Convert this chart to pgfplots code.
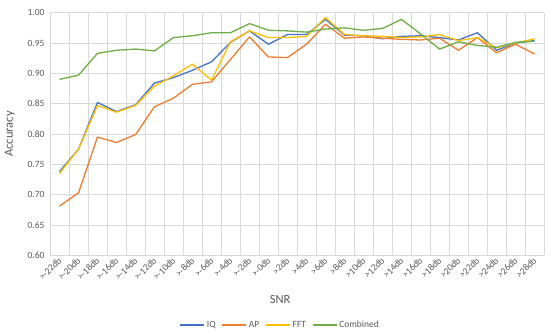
\documentclass[border=0pt]{standalone}
\usepackage{pgfplots}
\pgfplotsset{compat=1.18}
\usepackage{fontspec}
\setmainfont{Carlito}
\definecolor{cIQ}{HTML}{4472C4}
\definecolor{cAP}{HTML}{ED7D31}
\definecolor{cFFT}{HTML}{FFC000}
\definecolor{cComb}{HTML}{70AD47}
\definecolor{gridc}{HTML}{D9D9D9}
\definecolor{txt}{HTML}{595959}
\begin{document}
\begin{tikzpicture}
\begin{axis}[
  at={(0,0)}, anchor=south west,
  scale only axis, width=494pt, height=242.6pt,
  xmin=-0.5, xmax=25.5, ymin=0.6, ymax=1.0,
  xtick={0,...,25},
  xticklabels={>-22db,>-20db,>-18db,>-16db,>-14db,>-12db,>-10db,>-8db,>-6db,>-4db,>-2db,>-0db,>2db,>4db,>6db,>8db,>10db,>12db,>14db,>16db,>18db,>20db,>22db,>24db,>26db,>28db},
  minor xtick={-0.5,0.5,...,25.5},
  xminorgrids=true, xmajorgrids=false,
  ytick={0.6,0.65,...,1.01},
  ymajorgrids=true,
  grid style={gridc, line width=0.6pt},
  minor grid style={gridc, line width=0.6pt},
  axis x line*=bottom, axis y line*=left,
  x axis line style={gridc, line width=0.6pt, -},
  y axis line style={draw=none},
  major tick length=0pt, minor tick length=0pt,
  tick style={draw=none},
  /pgf/number format/assume math mode=true,
  yticklabel style={/pgf/number format/fixed, /pgf/number format/fixed zerofill, /pgf/number format/precision=2, font=\fontsize{9.5}{10}\selectfont, text=txt, xshift=-2pt},
  xticklabel style={rotate=45, anchor=east, font=\fontsize{9.5}{10}\selectfont, text=txt, yshift=-3pt, xshift=1pt},
  xlabel={SNR}, ylabel={Accuracy},
  xlabel style={at={(axis description cs:0.466,-0.184)}, anchor=center, font=\fontsize{12.5}{14}\selectfont, text=txt},
  ylabel style={at={(axis description cs:-0.081,0.5)}, anchor=center, font=\fontsize{12.5}{14}\selectfont, text=txt},
  legend style={at={(axis description cs:0.466,-0.287)}, anchor=center, draw=none, fill=none, font=\fontsize{9.5}{10}\selectfont, text=txt, legend columns=4, /tikz/every even column/.append style={column sep=4pt}},
  legend image code/.code={\draw[#1] (0pt,0pt) -- (24pt,0pt);},
  every axis plot/.append style={line width=1.3pt, mark=none, line join=round},
]
\addplot[cIQ] coordinates {(0,0.738)(1,0.775)(2,0.852)(3,0.837)(4,0.848)(5,0.884)(6,0.893)(7,0.905)(8,0.919)(9,0.951)(10,0.970)(11,0.948)(12,0.964)(13,0.964)(14,0.989)(15,0.963)(16,0.962)(17,0.957)(18,0.961)(19,0.962)(20,0.959)(21,0.955)(22,0.967)(23,0.938)(24,0.950)(25,0.954)};
\addplot[cAP] coordinates {(0,0.681)(1,0.703)(2,0.795)(3,0.786)(4,0.799)(5,0.845)(6,0.859)(7,0.882)(8,0.886)(9,0.923)(10,0.960)(11,0.927)(12,0.926)(13,0.948)(14,0.981)(15,0.958)(16,0.960)(17,0.958)(18,0.956)(19,0.955)(20,0.958)(21,0.938)(22,0.959)(23,0.934)(24,0.948)(25,0.932)};
\addplot[cFFT] coordinates {(0,0.735)(1,0.775)(2,0.847)(3,0.836)(4,0.847)(5,0.879)(6,0.896)(7,0.915)(8,0.889)(9,0.952)(10,0.970)(11,0.959)(12,0.959)(13,0.961)(14,0.992)(15,0.964)(16,0.962)(17,0.961)(18,0.959)(19,0.960)(20,0.964)(21,0.954)(22,0.959)(23,0.942)(24,0.950)(25,0.957)};
\addplot[cComb] coordinates {(0,0.890)(1,0.897)(2,0.933)(3,0.938)(4,0.940)(5,0.937)(6,0.959)(7,0.962)(8,0.967)(9,0.967)(10,0.982)(11,0.971)(12,0.970)(13,0.968)(14,0.973)(15,0.975)(16,0.971)(17,0.974)(18,0.989)(19,0.965)(20,0.940)(21,0.952)(22,0.946)(23,0.943)(24,0.951)(25,0.953)};
\legend{IQ,AP,FFT,Combined}
\end{axis}
\path[use as bounding box] (-50pt,-80.7pt) rectangle (500pt,255.3pt);
\end{tikzpicture}
\end{document}
